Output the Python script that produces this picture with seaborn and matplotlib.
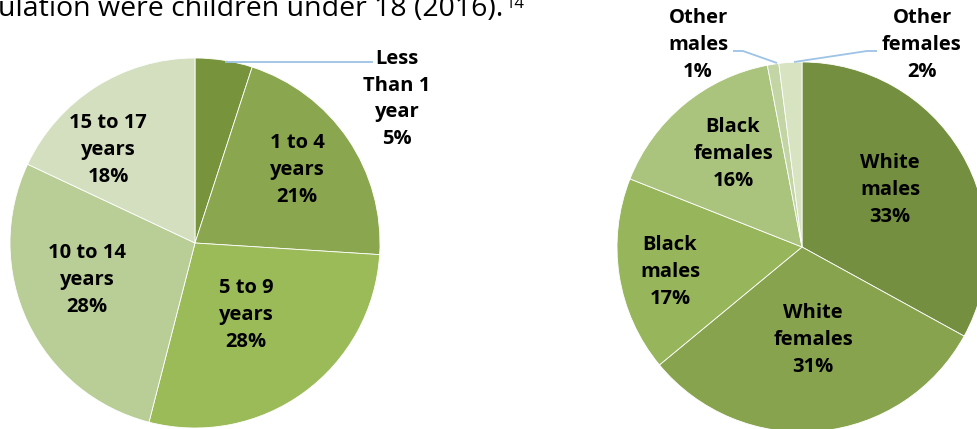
import matplotlib
matplotlib.use("Agg")
import matplotlib.pyplot as plt
import seaborn as sns

sns.set_theme(style="white")
plt.rcParams['font.family'] = ['Open Sans', 'DejaVu Sans']

W, H = 977, 429

# Child population by age group (percent)
age_labels = ["Less\nThan 1\nyear", "1 to 4\nyears", "5 to 9\nyears",
              "10 to 14\nyears", "15 to 17\nyears"]
age_values = [5, 21, 28, 28, 18]
age_colors = ["#77933C", "#8AA64F", "#9BBB59", "#B9CE97", "#D4DFC0"]

# Child population by race and sex (percent)
race_labels = ["White\nmales", "White\nfemales", "Black\nmales",
               "Black\nfemales", "Other\nmales", "Other\nfemales"]
race_values = [33, 31, 17, 16, 1, 2]
race_colors = ["#738F3F", "#87A34E", "#97B55B", "#AAC47D", "#C3D4A5", "#D7E3C1"]

fig = plt.figure(figsize=(W / 100, H / 100), dpi=100)
ax = fig.add_axes([0, 0, 1, 1])


def py(y):
    """Convert a top-down pixel row into the axis' upward coordinate."""
    return H - y


left_center = (195, py(243))
right_center = (802, py(247))
radius = 185

wedge_style = dict(edgecolor="white", linewidth=0.6)
ax.pie(age_values, colors=age_colors, startangle=90, counterclock=False,
       center=left_center, radius=radius, wedgeprops=wedge_style)
ax.pie(race_values, colors=race_colors, startangle=90, counterclock=False,
       center=right_center, radius=radius, wedgeprops=wedge_style)

ax.set_xlim(0, W)
ax.set_ylim(0, H)
ax.set_aspect("equal")
ax.axis("off")

label_kw = dict(ha="center", va="center", fontsize=14.5, fontweight="bold",
                linespacing=1.45, color="black")

# Text anchors (pixel layout) for each slice label
age_pos = [(397, 99), (297, 170), (246, 315), (87, 280), (108, 150)]
race_pos = [(890, 190), (813, 340), (670, 272), (733, 154), (698, 45), (922, 45)]

for lab, val, (x, y) in zip(age_labels, age_values, age_pos):
    ax.text(x, py(y), f"{lab}\n{val}%", **label_kw)
for lab, val, (x, y) in zip(race_labels, race_values, race_pos):
    ax.text(x, py(y), f"{lab}\n{val}%", **label_kw)

leader = dict(color="#9DC3E6", linewidth=1.3, solid_capstyle="butt")
ax.plot([225, 373], [py(62), py(62)], **leader)
ax.plot([733, 743, 777], [py(51), py(51), py(63)], **leader)
ax.plot([877, 867, 794], [py(51), py(51), py(62)], **leader)

# Caption text running off the top-left edge, with a raised footnote mark
cap = ax.text(-2, py(16), "ulation were children under 18 (2016).", ha="left",
              va="baseline", fontsize=20.5, color="black")
fig.canvas.draw()
bb = cap.get_window_extent(fig.canvas.get_renderer())
ax.text(bb.x1 + 2, py(8), "14", ha="left", va="baseline", fontsize=12,
        color="black")

fig.savefig("out.png", dpi=100)
